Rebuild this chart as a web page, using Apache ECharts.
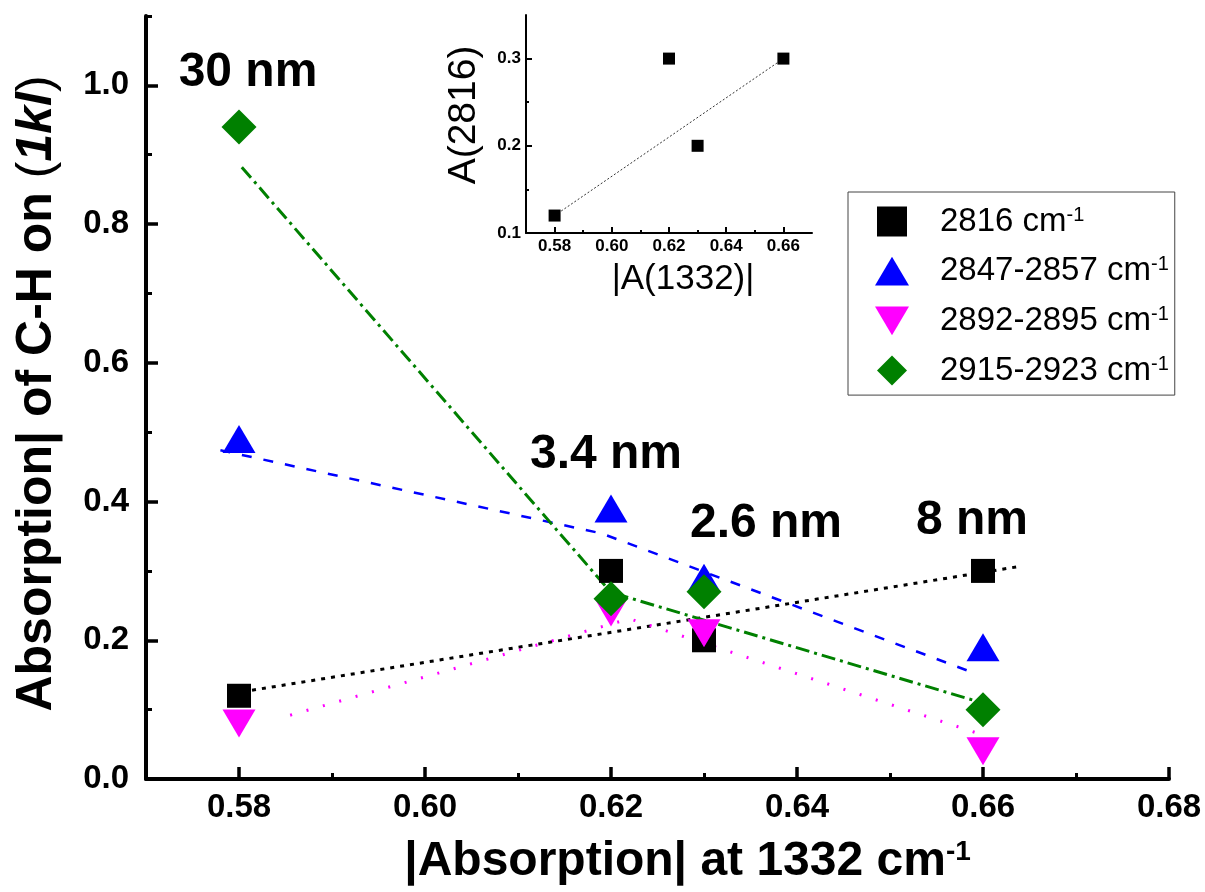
<!DOCTYPE html>
<html>
<head>
<meta charset="utf-8">
<script src="https://cdn.jsdelivr.net/npm/echarts@6/dist/echarts.min.js"></script>
<style>html,body{margin:0;padding:0;background:#fff}#c{width:1205px;height:892px}</style>
</head>
<body>
<div id="c"></div>
<script>
// ---- data ----
const xValues = [0.58, 0.62, 0.63, 0.66];
const seriesNames = ['2816', '2847-2857', '2892-2895', '2915-2923'];
const a2816 = [0.12, 0.30, 0.20, 0.30];
const a2847 = [0.49, 0.39, 0.29, 0.19];
const a2892 = [0.08, 0.24, 0.21, 0.04];
const a2915 = [0.94, 0.26, 0.27, 0.10];
// fitted guide lines [x, y]
const fit2816 = [[0.5814, 0.128], [0.6642, 0.307]];
const fit2847 = [[0.578, 0.474], [0.619, 0.354], [0.6594, 0.151]];
const fit2892 = [[0.5855, 0.092], [0.622, 0.231], [0.6601, 0.063]];
const fit2915 = [[0.5803, 0.882], [0.620, 0.269], [0.6591, 0.113]];
// inset
const insetX = [0.58, 0.62, 0.63, 0.66];
const insetY = [0.12, 0.30, 0.20, 0.30];
const insetFit = [[0.58, 0.12], [0.66, 0.30]];
// ticks
const xMajor = [0.58, 0.60, 0.62, 0.64, 0.66, 0.68];
const xMinor = [0.59, 0.61, 0.63, 0.65, 0.67];
const yMajor = [0.0, 0.2, 0.4, 0.6, 0.8, 1.0];
const yMinor = [0.1, 0.3, 0.5, 0.7, 0.9, 1.1];
const ixMajor = [0.58, 0.60, 0.62, 0.64, 0.66];
const ixMinor = [0.59, 0.61, 0.63, 0.65];
const iyMajor = [0.1, 0.2, 0.3];
const iyMinor = [0.15, 0.25];
const sizeLabels = ['30 nm', '3.4 nm', '2.6 nm', '8 nm'];
const insetYTitle = 'A(2816)';

const FF = 'Arial, "Liberation Sans", sans-serif';
const zip = (xs, ys) => xs.map((x, i) => [x, ys[i]]);

const chart = echarts.init(document.getElementById('c'), null, {renderer: 'canvas'});

const option = {
  animation: false,
  backgroundColor: '#fff',
  grid: [
    {left: 146, right: 36, top: 16, bottom: 113, outerBoundsMode: 'none'},
    {left: 526, right: 393, top: 15, bottom: 659, outerBoundsMode: 'none'}
  ],
  xAxis: [
    {
      type: 'value', gridIndex: 0, min: 0.57, max: 0.68, position: 'bottom',
      axisLine: {show: true, onZero: false, lineStyle: {color: '#000', width: 4}},
      axisTick: {show: true, inside: true, length: 12, customValues: xMajor, lineStyle: {color: '#000', width: 3.5}},
      axisLabel: {customValues: xMajor, formatter: v => v.toFixed(2), fontFamily: FF, fontSize: 33, fontWeight: 'bold', color: '#000', margin: 12},
      splitLine: {show: false},
      name: '{t||Absorption| at 1332 cm}{s|-1}', nameLocation: 'middle', nameGap: 59,
      nameTextStyle: {padding: [0, 0, 0, 60], rich: {
        t: {fontFamily: FF, fontSize: 48, fontWeight: 'bold', color: '#000'},
        s: {fontFamily: FF, fontSize: 28, fontWeight: 'bold', color: '#000', verticalAlign: 'top'}
      }}
    },
    {
      type: 'value', gridIndex: 0, min: 0.57, max: 0.68, position: 'bottom',
      axisLine: {show: false}, axisLabel: {show: false}, splitLine: {show: false},
      axisTick: {show: true, inside: true, length: 6, customValues: xMinor, lineStyle: {color: '#000', width: 3}}
    },
    {
      type: 'value', gridIndex: 1, min: 0.57, max: 0.67, position: 'bottom',
      axisLine: {show: true, onZero: false, lineStyle: {color: '#000', width: 2}},
      axisTick: {show: true, inside: true, length: 6, customValues: ixMajor, lineStyle: {color: '#000', width: 2}},
      axisLabel: {customValues: ixMajor, formatter: v => v.toFixed(2), fontFamily: FF, fontSize: 17, fontWeight: 'bold', color: '#000', margin: 5},
      splitLine: {show: false},
      name: '|A(1332)|', nameLocation: 'middle', nameGap: 29,
      nameTextStyle: {fontFamily: FF, fontSize: 35, color: '#000', padding: [0, 0, 0, 28]}
    },
    {
      type: 'value', gridIndex: 1, min: 0.57, max: 0.67, position: 'bottom',
      axisLine: {show: false}, axisLabel: {show: false}, splitLine: {show: false},
      axisTick: {show: true, inside: true, length: 3, customValues: ixMinor, lineStyle: {color: '#000', width: 2}}
    }
  ],
  yAxis: [
    {
      type: 'value', gridIndex: 0, min: 0, max: 1.1, position: 'left',
      axisLine: {show: true, onZero: false, lineStyle: {color: '#000', width: 4}},
      axisTick: {show: true, inside: true, length: 12, customValues: yMajor, lineStyle: {color: '#000', width: 3.5}},
      axisLabel: {customValues: yMajor, formatter: v => v.toFixed(1), fontFamily: FF, fontSize: 33, fontWeight: 'bold', color: '#000', margin: 17},
      splitLine: {show: false},
      name: '{b|Absorption| of C-H on }{p|(}{i|1kl}{p|)}', nameLocation: 'middle', nameGap: 84, nameRotate: 90,
      nameTextStyle: {padding: [0, 0, 0, 8], rich: {
        b: {fontFamily: FF, fontSize: 50, fontWeight: 'bold', color: '#000'},
        p: {fontFamily: FF, fontSize: 50, fontWeight: 'normal', color: '#000'},
        i: {fontFamily: FF, fontSize: 50, fontWeight: 'bold', fontStyle: 'italic', color: '#000'}
      }}
    },
    {
      type: 'value', gridIndex: 0, min: 0, max: 1.1, position: 'left',
      axisLine: {show: false}, axisLabel: {show: false}, splitLine: {show: false},
      axisTick: {show: true, inside: true, length: 6, customValues: yMinor, lineStyle: {color: '#000', width: 3}}
    },
    {
      type: 'value', gridIndex: 1, min: 0.1, max: 0.35, position: 'left',
      axisLine: {show: true, onZero: false, lineStyle: {color: '#000', width: 2}},
      axisTick: {show: true, inside: true, length: 6, customValues: iyMajor, lineStyle: {color: '#000', width: 2}},
      axisLabel: {customValues: iyMajor, formatter: v => v.toFixed(1), fontFamily: FF, fontSize: 17, fontWeight: 'bold', color: '#000', margin: 5},
      splitLine: {show: false}
    },
    {
      type: 'value', gridIndex: 1, min: 0.1, max: 0.35, position: 'left',
      axisLine: {show: false}, axisLabel: {show: false}, splitLine: {show: false},
      axisTick: {show: true, inside: true, length: 3, customValues: iyMinor, lineStyle: {color: '#000', width: 2}}
    }
  ],
  legend: {
    orient: 'vertical', left: 848, top: 192,
    padding: [13, 6, 8, 27], itemGap: 16.7, itemWidth: 34, itemHeight: 30,
    borderColor: '#444', borderWidth: 1, backgroundColor: '#fff',
    data: [
      {name: seriesNames[0], icon: 'path://M0,0H26V26H0Z'},
      {name: seriesNames[1], icon: 'path://M0,28L16.5,0L33,28Z'},
      {name: seriesNames[2], icon: 'path://M0,0L33,0L16.5,28Z'},
      {name: seriesNames[3], icon: 'path://M17,0L34,17L17,34L0,17Z'}
    ],
    formatter: n => '{a|' + n + ' cm}{s|-1}',
    textStyle: {rich: {
      a: {fontFamily: FF, fontSize: 33, color: '#000', padding: [0, 0, 0, 26]},
      s: {fontFamily: FF, fontSize: 20, color: '#000', verticalAlign: 'top'}
    }}
  },
  graphic: [
    {type: 'text', x: 248, y: 73, z: 100, style: {text: sizeLabels[0], fontFamily: FF, fontSize: 48, fontWeight: 'bold', fill: '#000', align: 'center', verticalAlign: 'middle'}},
    {type: 'text', x: 606, y: 455, z: 100, style: {text: sizeLabels[1], fontFamily: FF, fontSize: 48, fontWeight: 'bold', fill: '#000', align: 'center', verticalAlign: 'middle'}},
    {type: 'text', x: 766, y: 524, z: 100, style: {text: sizeLabels[2], fontFamily: FF, fontSize: 48, fontWeight: 'bold', fill: '#000', align: 'center', verticalAlign: 'middle'}},
    {type: 'text', x: 972, y: 521, z: 100, style: {text: sizeLabels[3], fontFamily: FF, fontSize: 48, fontWeight: 'bold', fill: '#000', align: 'center', verticalAlign: 'middle'}},
    {type: 'text', x: 464, y: 115, rotation: Math.PI / 2, z: 100, style: {text: insetYTitle, fontFamily: FF, fontSize: 39, fill: '#000', align: 'center', verticalAlign: 'middle'}}
  ],
  series: [
    {type: 'line', xAxisIndex: 0, yAxisIndex: 0, data: fit2816, symbol: 'none', silent: true, z: 1, lineStyle: {color: '#000', width: 3, type: [4, 6]}},
    {type: 'line', xAxisIndex: 0, yAxisIndex: 0, data: fit2847, symbol: 'none', silent: true, z: 1, lineStyle: {color: '#0000ff', width: 2.5, type: [10, 12]}},
    {type: 'line', xAxisIndex: 0, yAxisIndex: 0, data: fit2892, symbol: 'none', silent: true, z: 1, lineStyle: {color: '#ff00ff', width: 3, type: [2, 15]}},
    {type: 'line', xAxisIndex: 0, yAxisIndex: 0, data: fit2915, symbol: 'none', silent: true, z: 1, lineStyle: {color: '#008000', width: 3, type: [14, 5, 3, 5]}},
    {name: seriesNames[0], type: 'scatter', xAxisIndex: 0, yAxisIndex: 0, data: zip(xValues, a2816), symbol: 'rect', symbolSize: 24, itemStyle: {color: '#000', opacity: 1}, z: 3},
    {name: seriesNames[1], type: 'scatter', xAxisIndex: 0, yAxisIndex: 0, data: zip(xValues, a2847), symbol: 'triangle', symbolSize: [33, 28], itemStyle: {color: '#0000ff', opacity: 1}, z: 4},
    {name: seriesNames[2], type: 'scatter', xAxisIndex: 0, yAxisIndex: 0, data: zip(xValues, a2892), symbol: 'triangle', symbolRotate: 180, symbolSize: [33, 28], itemStyle: {color: '#ff00ff', opacity: 1}, z: 5},
    {name: seriesNames[3], type: 'scatter', xAxisIndex: 0, yAxisIndex: 0, data: zip(xValues, a2915), symbol: 'diamond', symbolSize: [35, 35], itemStyle: {color: '#008000', opacity: 1}, z: 6},
    {type: 'line', xAxisIndex: 2, yAxisIndex: 2, data: insetFit, symbol: 'none', silent: true, z: 1, lineStyle: {color: '#333', width: 1, type: [2, 2]}},
    {type: 'scatter', xAxisIndex: 2, yAxisIndex: 2, data: zip(insetX, insetY), symbol: 'rect', symbolSize: 12, itemStyle: {color: '#000', opacity: 1}, z: 3}
  ]
};
chart.setOption(option);
</script>
</body>
</html>
